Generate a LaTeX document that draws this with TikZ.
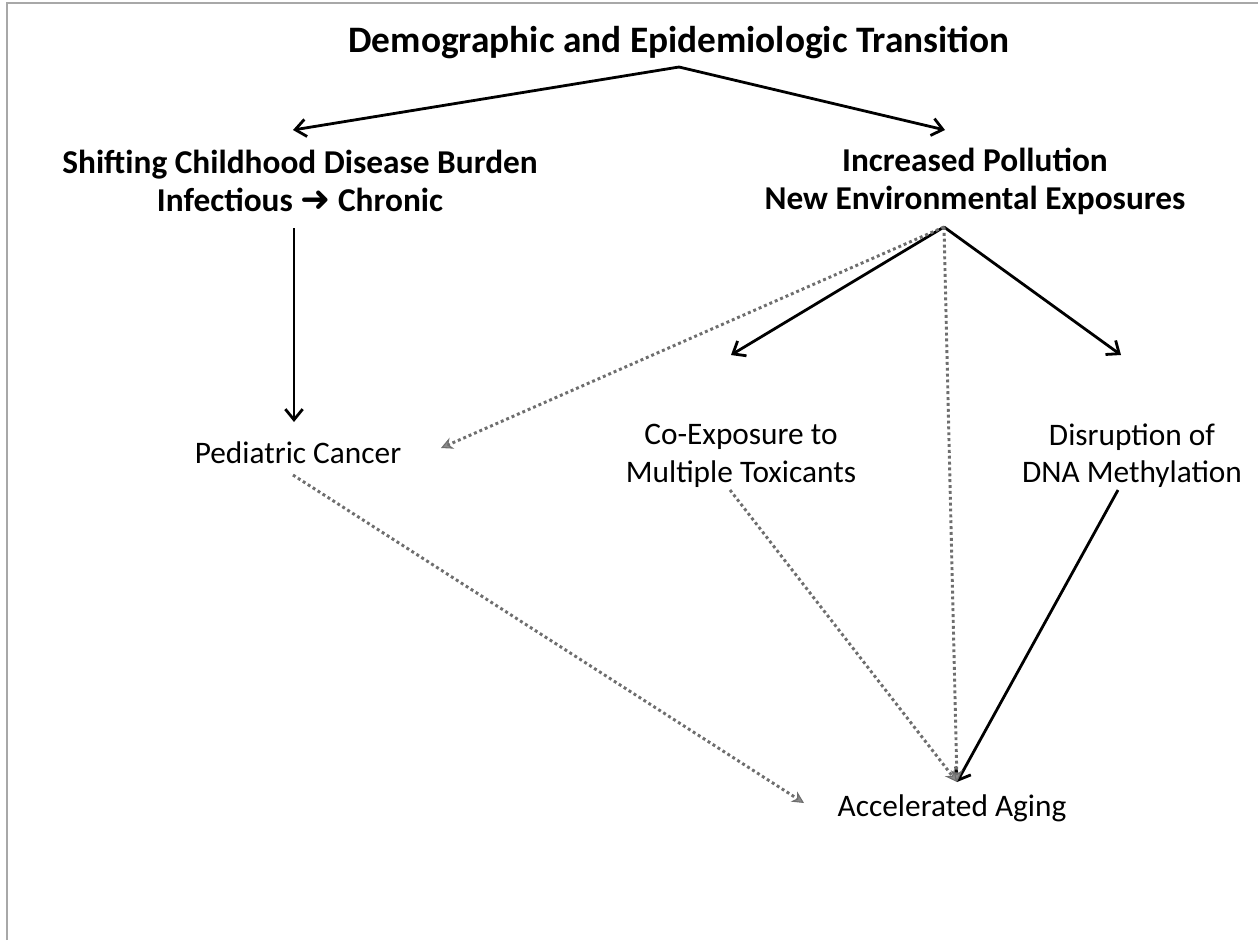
\documentclass[tikz,border=0pt]{standalone}
\usepackage{fontspec}
\setmainfont{Carlito}
\newfontfamily\dejavu{DejaVu Sans}
\usetikzlibrary{arrows.meta}
\definecolor{dotgray}{HTML}{6E6E6E}
\definecolor{framegray}{HTML}{A8A8A8}
\begin{document}
\begin{tikzpicture}[x=0.75pt,y=-0.75pt,
  titletxt/.style={font=\fontsize{28}{34}\selectfont\bfseries, align=center, inner sep=0pt},
  boldtxt/.style={font=\fontsize{25}{28.5}\selectfont\bfseries, align=center, inner sep=0pt},
  plaintxt/.style={font=\fontsize{23.5}{28}\selectfont, align=center, inner sep=0pt},
  solidarrow/.style={line width=2.1pt, -{Straight Barb[length=8pt,width=13pt,line width=2.1pt]}},
  dotarrow/.style={line width=2.2pt, dotgray, dash pattern=on 2.2pt off 2.2pt,
     -{Stealth[length=9pt,width=9pt,inset=3pt,fill=dotgray!80,line width=0.8pt,sep=0pt]}},
  framestyle/.style={framegray, line width=1.2pt}
]
\useasboundingbox (0,0) rectangle (1258,940);
% partial frame
\draw[framestyle] (7,940) -- (7,3) -- (1258,3);

% nodes
\node[titletxt] (title) at (679,43) {Demographic and Epidemiologic Transition};
\node[boldtxt] (shift) at (300,181) {Shifting Childhood Disease Burden\\Infectious {\dejavu\fontsize{27}{20}\selectfont ➜} Chronic};
\node[boldtxt] (poll) at (975,181) {Increased Pollution\\New Environmental Exposures};
\node[plaintxt] (ped) at (298,453) {Pediatric Cancer};
\node[plaintxt] (coexp) at (741,456) {Co-Exposure to\\Multiple Toxicants};
\node[plaintxt] (dna) at (1132,456) {Disruption of\\DNA Methylation};
\node[plaintxt] (aging) at (952,808) {Accelerated Aging};

% anchor coordinates
\coordinate (tapex) at (679,67);
\coordinate (tleft) at (293,130);
\coordinate (tright) at (945,130);
\coordinate (papex) at (944,227);
\coordinate (shiftbot) at (294,228);
\coordinate (pedtop) at (294,422);
\coordinate (pedend) at (441,448);
\coordinate (coend) at (731,355);
\coordinate (dnaend) at (1121,355);
\coordinate (pedbot) at (293,475);
\coordinate (cobot) at (730,490);
\coordinate (dnabot) at (1118,490);
\coordinate (agingA) at (804,803);
\coordinate (agingB) at (957,782);

% solid arrows
\draw[solidarrow] (tapex) -- (tleft);
\draw[solidarrow] (tapex) -- (tright);
\draw[solidarrow] (shiftbot) -- (pedtop);
\draw[solidarrow] (papex) -- (coend);
\draw[solidarrow] (papex) -- (dnaend);
\draw[solidarrow] (dnabot) -- (agingB);

% dotted arrows
\draw[dotarrow] (papex) -- (pedend);
\draw[dotarrow] (papex) -- (agingB);
\draw[dotarrow] (pedbot) -- (agingA);
\draw[dotarrow] (cobot) -- (agingB);
\end{tikzpicture}
\end{document}
